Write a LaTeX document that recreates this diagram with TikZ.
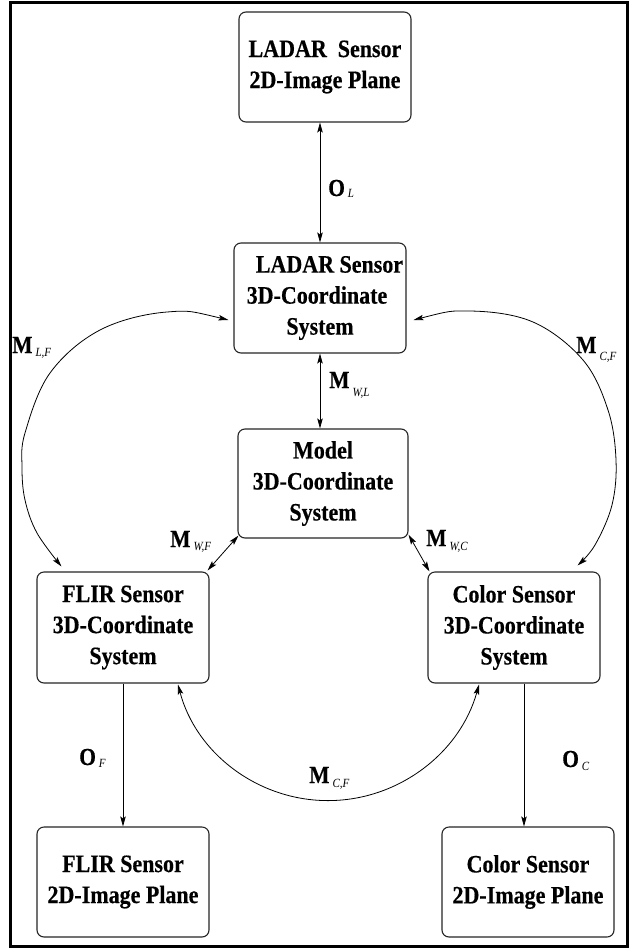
\documentclass[tikz,border=0pt]{standalone}
\usepackage{fontspec}
\setmainfont[FakeStretch=0.88,BoldFeatures={FakeBold=0.4}]{Liberation Serif}
\usetikzlibrary{arrows.meta,calc}
\newcommand{\mlab}[3]{{\fontsize{24.5}{24.5}\selectfont\bfseries #1}\kern3pt\raisebox{-#3pt}{\fontsize{12.5}{12.5}\selectfont\itshape #2}}
\begin{document}
\begin{tikzpicture}[x=1pt,y=-1pt,
  box/.style={draw=black!85, line width=1.1pt, rounded corners=7pt, minimum width=172pt, minimum height=110pt, inner sep=0pt, align=center, font=\fontsize{25}{31}\selectfont\bfseries},
  conn/.style={line width=0.8pt, draw=black},
  >={Stealth[length=10pt,width=5.5pt,inset=2pt]},
  lbl/.style={anchor=base west, inner sep=0pt}]
\useasboundingbox (0,0) rectangle (634,948);
\fill[white] (0,0) rectangle (634,948);
\draw[line width=3pt] (10,2.5) rectangle (627,946);
% boxes
\node[box] (lad2) at (325,67) {LADAR~~Sensor\\2D-Image Plane};
\node[box] (lad3) at (320,298) {\kern9.5pt LADAR Sensor\kern-9.5pt\\\kern-3pt 3D-Coordinate\kern3pt\\System};
\node[box, minimum width=170pt, minimum height=109pt] (model) at (323,483.5) {Model\\3D-Coordinate\\System};
\node[box, minimum height=111pt] (flir3) at (123,627.5) {FLIR Sensor\\3D-Coordinate\\System};
\node[box, minimum height=111pt] (col3) at (514,627.5) {Color Sensor\\3D-Coordinate\\System};
\node[box] (flir2) at (123,882) {FLIR Sensor\\2D-Image Plane};
\node[box] (col2) at (528,882) {Color Sensor\\2D-Image Plane};
% helper coordinates
\coordinate (ax) at (320,0);
\coordinate (cx) at (524,0);
\coordinate (lfS) at ($(lad3.west)+(-5,22)$);
\coordinate (lfE) at ($(flir3.north west)+(25,-5)$);
\coordinate (rcS) at ($(lad3.east)+(7,22)$);
\coordinate (rcE) at ($(col3.north east)+(-23,-6)$);
\coordinate (bS) at ($(flir3.south)+(55,1)$);
\coordinate (bE) at ($(col3.south)+(-35,1)$);
\coordinate (bM) at (328,800.6);
% straight connectors
\draw[conn,<->] (ax |- lad2.south) -- (ax |- lad3.north);
\draw[conn,<->] (ax |- lad3.south) -- (ax |- model.north);
\draw[conn,->] (flir3.south) -- (flir2.north);
\draw[conn,->] (cx |- col3.south) -- (cx |- col2.north);
\draw[conn,<->] ($(model.south west)+(1,-3)$) -- ($(flir3.north east)+(-2,-1)$);
\draw[conn,<->] ($(model.south east)+(0,-4)$) -- ($(col3.north west)+(2,0)$);
% curved connectors
\draw[conn,<->] plot[smooth, tension=0.6] coordinates {(lfS) (167,312) (100,330) (50,373) (25,433) (22,467) (25,500) (37,533) (lfE)};
\draw[conn,<->] plot[smooth, tension=0.6] coordinates {(rcS) (470,311) (533,322) (583,360) (608,410) (616,460) (612,505) (595,545) (rcE)};
\draw[conn,<->] (bS) .. controls (196,753) and (257.6,800.6) .. (bM) .. controls (398.4,800.6) and (460,753) .. (bE);
% labels
\node[lbl] (lOL) at (328,196) {\mlab{O}{L}{1}};
\node[lbl] (lMWL) at (329,388) {\mlab{M}{W,L}{8}};
\node[lbl] (lMLF) at (12,353) {\mlab{M}{L,F}{3}};
\node[lbl] (lMCFa) at (576,353) {\mlab{M}{C,F}{7}};
\node[lbl] (lMWF) at (170,547) {\mlab{M}{W,F}{3}};
\node[lbl] (lMWC) at (426,546) {\mlab{M}{W,C}{4}};
\node[lbl] (lOF) at (79,765) {\mlab{O}{F}{2}};
\node[lbl] (lOC) at (562,767) {\mlab{O}{C}{3}};
\node[lbl] (lMCFb) at (309,783) {\mlab{M}{C,F}{4}};
\end{tikzpicture}
\end{document}
